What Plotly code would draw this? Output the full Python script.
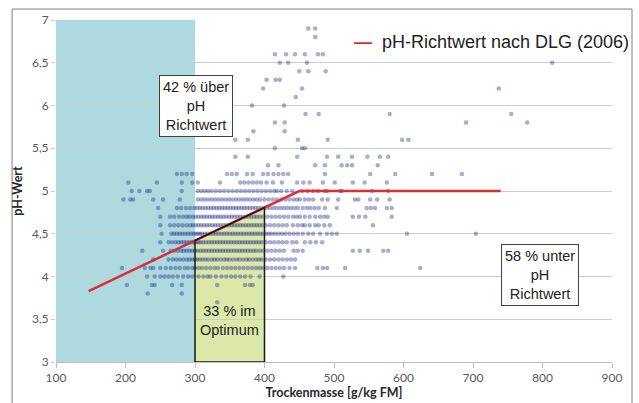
import plotly.graph_objects as go
import numpy as np

# ---- data: scatter points by pH level (x = Trockenmasse g/kg FM) ----
x_ph37 = [332]
x_ph38 = [232, 281]
x_ph39 = [202, 238, 242, 267, 281, 332, 372, 379, 383]
x_ph40 = [231, 242, 250, 256, 262, 268, 275, 283, 290, 296, 305, 312, 318, 322, 330, 338, 345, 352, 358, 365, 372, 380, 393, 427]
x_ph41 = [195, 228, 236, 240, 250, 258, 265, 272, 278, 285, 290, 296, 300, 305, 310, 316, 322, 328, 333, 340, 346, 352, 358, 364,
          370, 376, 382, 388, 393, 398, 404, 410, 416, 422, 428, 436, 444, 476, 484, 490, 516, 624]
x_ph42 = [240, 262, 268, 273, 278, 283, 288, 292, 296, 300, 303, 307, 311, 315, 319, 324, 328, 332, 337, 342, 346, 350, 355, 360,
          364, 369, 374, 378, 383, 388, 392, 396, 402, 408, 414, 420, 426, 432, 438, 444]
x_ph43 = [224, 254, 265, 270, 275, 280, 284, 288, 292, 296, 300, 304, 308, 312, 316, 320, 324, 328, 332, 336, 340, 344, 348, 352,
          356, 360, 364, 368, 372, 376, 380, 384, 388, 393, 398, 404, 410, 416, 422, 428, 442, 448, 455, 527, 537, 549, 571, 578]
x_ph44 = [250, 262, 267, 272, 276, 280, 284, 288, 292, 296, 299, 302, 305, 308, 312, 316, 320, 324, 328, 332, 336, 340, 344, 348,
          352, 356, 360, 364, 368, 372, 376, 380, 384, 388, 392, 396, 402, 408, 414, 420, 426, 432, 440, 446, 458, 466, 474, 483]
x_ph45 = [252, 266, 270, 274, 278, 282, 286, 290, 294, 298, 301, 304, 307, 310, 314, 318, 322, 326, 330, 334, 338, 342, 346, 350,
          354, 358, 362, 366, 370, 374, 378, 382, 386, 390, 394, 398, 402, 406, 410, 415, 420, 425, 430, 436, 442, 448, 455, 463,
          470, 480, 490, 497, 504, 605, 704]
x_ph46 = [250, 264, 270, 276, 282, 288, 293, 297, 301, 305, 309, 313, 317, 321, 325, 329, 333, 337, 341, 345, 349, 353, 357, 361,
          365, 369, 373, 377, 381, 385, 389, 393, 397, 402, 408, 414, 420, 426, 432, 441, 448, 454, 458, 465, 473, 478, 486, 494, 556]
x_ph47 = [250, 264, 270, 277, 283, 288, 292, 297, 301, 305, 309, 313, 317, 321, 325, 329, 333, 337, 341, 345, 349, 353, 357, 361,
          365, 369, 373, 377, 381, 385, 389, 393, 398, 404, 410, 416, 422, 428, 434, 441, 446, 451, 458, 465, 473, 480, 486, 491,
          527, 536, 545, 583]
x_ph48 = [247, 274, 280, 287, 293, 299, 303, 307, 311, 315, 319, 323, 327, 331, 335, 339, 343, 347, 351, 355, 359, 363, 367, 371,
          375, 379, 383, 387, 391, 396, 403, 408, 413, 418, 423, 428, 433, 438, 443, 448, 455, 461, 466, 472, 478, 487, 504, 547,
          553, 559, 576, 583]
x_ph49 = [197, 207, 211, 240, 254, 278, 304, 309, 314, 319, 324, 329, 334, 339, 344, 349, 354, 359, 364, 369, 374, 379, 384, 389,
          394, 400, 406, 412, 418, 424, 430, 436, 442, 447, 451, 458, 464, 470, 483, 491, 506, 530, 535, 552, 562, 580]
x_ph50 = [209, 220, 231, 235, 281, 304, 309, 314, 319, 324, 330, 336, 342, 348, 354, 360, 366, 372, 378, 384, 390, 396, 402, 408,
          414, 418, 424, 432, 440, 454, 462, 470, 477, 487, 490, 509, 511, 555, 578]
x_ph51 = [204, 245, 281, 296, 304, 336, 365, 371, 377, 383, 389, 395, 403, 412, 425, 447, 456, 465, 484, 501, 527, 544, 576]
x_ph52 = [274, 281, 288, 296, 346, 353, 360, 375, 383, 398, 405, 413, 420, 427, 434, 487, 552, 588, 641, 684]
x_ph53 = [405, 420, 473, 487, 511, 519, 526, 563]
x_ph54 = [358, 376, 447, 490, 506, 526, 548, 566, 578]
x_ph55 = [415, 454, 458]
x_ph56 = [358, 376, 448, 491, 598, 607]
x_ph57 = [384, 429]
x_ph58 = [415, 429, 690, 778]
x_ph59 = [459, 478, 580, 755]
x_ph60 = [382, 428]
x_ph61 = [445]
x_ph62 = [398, 454, 737]
x_ph63 = [403, 416, 422]
x_ph64 = [450, 463, 488]
x_ph65 = [422, 434, 461, 814]
x_ph66 = [415, 431, 444, 458, 477, 484]
x_ph68 = [473]
x_ph69 = [463, 473]

rows = [(3.7, x_ph37), (3.8, x_ph38), (3.9, x_ph39), (4.0, x_ph40), (4.1, x_ph41), (4.2, x_ph42),
        (4.3, x_ph43), (4.4, x_ph44), (4.5, x_ph45), (4.6, x_ph46), (4.7, x_ph47), (4.8, x_ph48),
        (4.9, x_ph49), (5.0, x_ph50), (5.1, x_ph51), (5.2, x_ph52), (5.3, x_ph53), (5.4, x_ph54),
        (5.5, x_ph55), (5.6, x_ph56), (5.7, x_ph57), (5.8, x_ph58), (5.9, x_ph59), (6.0, x_ph60),
        (6.1, x_ph61), (6.2, x_ph62), (6.3, x_ph63), (6.4, x_ph64), (6.5, x_ph65), (6.6, x_ph66),
        (6.8, x_ph68), (6.9, x_ph69)]

# DLG reference line
dlg_x = [147, 450, 740]
dlg_y = [3.83, 5.0, 5.0]

# regions
shade_x = [100, 300]        # low dry matter zone
optimum_x = [300, 400]      # optimum zone
y_range = [3, 7]
x_range = [100, 900]

labels_text = ["42 % über<br>pH<br>Richtwert", "58 % unter<br>pH<br>Richtwert", "33 % im<br>Optimum"]

px_all, py_all = [], []
for ph, xs in rows:
    px_all += xs
    py_all += [ph] * len(xs)

fig = go.Figure()

top0 = float(np.interp(optimum_x[0], dlg_x, dlg_y))
top1 = float(np.interp(optimum_x[1], dlg_x, dlg_y))
poly_x = [optimum_x[0], optimum_x[0], optimum_x[1], optimum_x[1], optimum_x[0]]
poly_y = [y_range[0], top0, top1, y_range[0], y_range[0]]

fig.add_shape(type="rect", x0=shade_x[0], x1=shade_x[1], y0=y_range[0], y1=y_range[1],
              fillcolor="#acdadf", line_width=0, layer="below")
fig.add_shape(type="path",
              path=f"M {poly_x[0]},{poly_y[0]} L {poly_x[1]},{poly_y[1]} L {poly_x[2]},{poly_y[2]} L {poly_x[3]},{poly_y[3]} Z",
              fillcolor="#dbe8a9", line_width=0, layer="below")

fig.add_trace(go.Scatter(x=px_all, y=py_all, mode="markers",
                         marker=dict(size=4.5, color="rgba(30,40,135,0.38)", line_width=0),
                         showlegend=False, hoverinfo="skip"))

fig.add_trace(go.Scatter(x=dlg_x, y=dlg_y, mode="lines",
                         line=dict(color="#de2d35", width=2.5), showlegend=False))

fig.add_trace(go.Scatter(x=poly_x, y=poly_y, mode="lines",
                         line=dict(color="#1a1a1a", width=1.5), showlegend=False))

box_font = dict(family="Liberation Sans, Arial, sans-serif", size=14.5, color="#222222")
fig.add_annotation(x=301, y=5.99, text=labels_text[0], showarrow=False, font=box_font,
                   bgcolor="white", bordercolor="#404040", borderwidth=1, borderpad=3, align="center")
fig.add_annotation(x=796, y=4.02, text=labels_text[1], showarrow=False, font=box_font,
                   bgcolor="white", bordercolor="#404040", borderwidth=1, borderpad=3, align="center")
fig.add_annotation(x=350, y=3.49, text=labels_text[2], showarrow=False, font=box_font, align="center")

fig.add_annotation(xref="paper", yref="paper", x=1.034, y=0.936, xanchor="right", yanchor="middle",
                   text="<span style='color:#de2d35'><b>—</b></span>  pH-Richtwert nach DLG (2006)",
                   showarrow=False,
                   font=dict(family="Liberation Sans, Arial, sans-serif", size=18, color="#222222"))

fig.add_shape(type="rect", xref="paper", yref="paper", x0=-0.079, x1=1.036, y0=-0.13, y1=1.032,
              line=dict(color="#7f7f7f", width=1), fillcolor="rgba(0,0,0,0)", layer="above")

tick_font = dict(family="Lato, Liberation Sans, sans-serif", size=12, color="#595959")
title_font = dict(family="Lato, Liberation Sans, sans-serif", size=12.5, color="#262626")

fig.update_layout(
    width=639, height=403,
    margin=dict(l=56, r=27, t=20, b=41),
    paper_bgcolor="white", plot_bgcolor="white",
    separators=", ",
    showlegend=False,
)
fig.update_xaxes(range=x_range, dtick=100, tick0=100, showgrid=False, zeroline=False, automargin=False,
                 showline=True, linecolor="#bfbfbf", linewidth=1,
                 ticks="outside", ticklen=5, tickcolor="#bfbfbf", tickfont=tick_font,
                 title=dict(text="<b>Trockenmasse [g/kg FM]</b>", font=title_font, standoff=3))
fig.update_yaxes(range=y_range, dtick=0.5, tick0=3, showgrid=True, gridcolor="#cccccc", gridwidth=1,
                 zeroline=False, showline=False, automargin=False,
                 ticks="outside", ticklen=4, tickcolor="#cccccc", tickfont=tick_font,
                 title=dict(text="<b>pH-Wert</b>", font=title_font, standoff=6))

fig.write_html("out.html")
